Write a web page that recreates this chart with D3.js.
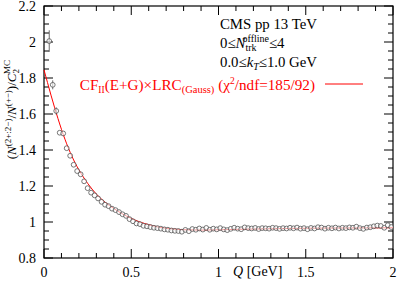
<!DOCTYPE html>
<html>
<head>
<meta charset="utf-8">
<script src="https://cdn.jsdelivr.net/npm/d3@7"></script>
<style>
  body { margin: 0; background: #fff; }
  svg text { font-family: "Liberation Serif", "DejaVu Serif", serif; }
</style>
</head>
<body>
<div id="chart"></div>
<script>
// measured points (Q bin centres, ratio, stat. error)
const qVals = [0.03, 0.05, 0.07, 0.09, 0.11, 0.13, 0.15, 0.17, 0.19, 0.21,
  0.23, 0.25, 0.27, 0.29, 0.31, 0.33, 0.35, 0.37, 0.39, 0.41,
  0.43, 0.45, 0.47, 0.49, 0.51, 0.53, 0.55, 0.57, 0.59, 0.61,
  0.63, 0.65, 0.67, 0.69, 0.71, 0.73, 0.75, 0.77, 0.79, 0.81,
  0.83, 0.85, 0.87, 0.89, 0.91, 0.93, 0.95, 0.97, 0.99, 1.01,
  1.03, 1.05, 1.07, 1.09, 1.11, 1.13, 1.15, 1.17, 1.19, 1.21,
  1.23, 1.25, 1.27, 1.29, 1.31, 1.33, 1.35, 1.37, 1.39, 1.41,
  1.43, 1.45, 1.47, 1.49, 1.51, 1.53, 1.55, 1.57, 1.59, 1.61,
  1.63, 1.65, 1.67, 1.69, 1.71, 1.73, 1.75, 1.77, 1.79, 1.81,
  1.83, 1.85, 1.87, 1.89, 1.91, 1.93, 1.95, 1.97, 1.99];
const ratioVals = [2.005, 1.762, 1.617, 1.496, 1.492, 1.410, 1.368, 1.318, 1.283, 1.265,
  1.226, 1.188, 1.163, 1.148, 1.131, 1.112, 1.096, 1.088, 1.074, 1.066,
  1.055, 1.043, 1.034, 1.016, 1.004, 0.992, 0.988, 0.979, 0.976, 0.972,
  0.968, 0.966, 0.963, 0.959, 0.957, 0.953, 0.951, 0.950, 0.946, 0.956,
  0.949, 0.961, 0.957, 0.964, 0.958, 0.967, 0.957, 0.963, 0.959, 0.966,
  0.959, 0.955, 0.962, 0.968, 0.963, 0.960, 0.970, 0.966, 0.964, 0.967,
  0.961, 0.966, 0.965, 0.963, 0.968, 0.966, 0.962, 0.966, 0.964, 0.968,
  0.965, 0.969, 0.963, 0.966, 0.960, 0.967, 0.964, 0.971, 0.969, 0.963,
  0.968, 0.965, 0.969, 0.964, 0.968, 0.966, 0.970, 0.968, 0.974, 0.966,
  0.962, 0.969, 0.971, 0.976, 0.980, 0.978, 0.968, 0.982, 0.972];
const errVals = [0.060, 0.025, 0.020, 0.012, 0.012, 0.009, 0.008, 0.007, 0.007, 0.006,
  0.006, 0.005, 0.005, 0.005, 0.005, 0.004, 0.004, 0.004, 0.004, 0.004,
  0.004, 0.004, 0.004, 0.004, 0.004, 0.004, 0.004, 0.004, 0.004, 0.004,
  0.004, 0.004, 0.004, 0.004, 0.004, 0.004, 0.004, 0.004, 0.004, 0.004,
  0.004, 0.004, 0.004, 0.004, 0.004, 0.004, 0.004, 0.004, 0.004, 0.004,
  0.004, 0.004, 0.004, 0.004, 0.004, 0.004, 0.004, 0.004, 0.004, 0.004,
  0.004, 0.004, 0.004, 0.004, 0.004, 0.004, 0.004, 0.004, 0.004, 0.004,
  0.004, 0.004, 0.004, 0.004, 0.004, 0.004, 0.004, 0.004, 0.004, 0.004,
  0.005, 0.005, 0.005, 0.005, 0.005, 0.005, 0.005, 0.005, 0.005, 0.005,
  0.005, 0.005, 0.005, 0.006, 0.006, 0.006, 0.006, 0.006, 0.006];

// fit curve
const fitQ = [0, 0.02, 0.04, 0.06, 0.08, 0.10, 0.12, 0.14, 0.16, 0.18, 0.20,
  0.25, 0.30, 0.35, 0.40, 0.45, 0.50, 0.55, 0.60, 0.65, 0.70,
  0.80, 0.90, 1.00, 1.20, 1.40, 1.60, 1.80, 2.00];
const fitVals = [1.845, 1.775, 1.705, 1.638, 1.575, 1.515, 1.460, 1.410, 1.365, 1.325, 1.290,
  1.215, 1.155, 1.110, 1.075, 1.045, 1.020, 1.000, 0.985, 0.973, 0.965,
  0.957, 0.955, 0.957, 0.961, 0.964, 0.966, 0.967, 0.968];

const xTickLabels = [0, 0.5, 1, 1.5, 2];
const yTickLabels = [0.8, 1, 1.2, 1.4, 1.6, 1.8, 2, 2.2];

const width = 399, height = 285;
const margin = {left: 44, right: 6, top: 6, bottom: 27};

const svg = d3.select('#chart').append('svg')
  .attr('width', width)
  .attr('height', height);

const x = d3.scaleLinear().domain([0, 2]).range([margin.left, width - margin.right]);
const y = d3.scaleLinear().domain([0.8, 2.2]).range([height - margin.bottom, margin.top]);

const x0 = x.range()[0], x1 = x.range()[1];
const y0 = y.range()[0], y1 = y.range()[1];

// ticks, ROOT style (inside, on all four sides)
const xMinor = d3.range(0, 2.0001, 0.1);
const yMinor = d3.range(0.8, 2.2001, 0.05);
const tickG = svg.append('g').attr('stroke', '#000').attr('stroke-width', 1);
xMinor.forEach((v, i) => {
  const len = i % 5 === 0 ? 9 : 5;
  tickG.append('line').attr('x1', x(v)).attr('x2', x(v)).attr('y1', y0).attr('y2', y0 - len);
  tickG.append('line').attr('x1', x(v)).attr('x2', x(v)).attr('y1', y1).attr('y2', y1 + len);
});
yMinor.forEach((v, i) => {
  const len = i % 4 === 0 ? 9 : 5;
  tickG.append('line').attr('y1', y(v)).attr('y2', y(v)).attr('x1', x0).attr('x2', x0 + len);
  tickG.append('line').attr('y1', y(v)).attr('y2', y(v)).attr('x1', x1).attr('x2', x1 - len);
});

// frame
svg.append('rect')
  .attr('x', x0).attr('y', y1)
  .attr('width', x1 - x0).attr('height', y0 - y1)
  .attr('fill', 'none').attr('stroke', '#000').attr('stroke-width', 1.2);

// tick labels
svg.append('g').selectAll('text')
  .data(xTickLabels).enter().append('text')
  .attr('x', d => x(d)).attr('y', y0 + 19)
  .attr('text-anchor', 'middle')
  .attr('font-size', 14)
  .text(d => d);
svg.append('g').selectAll('text')
  .data(yTickLabels).enter().append('text')
  .attr('x', x0 - 8).attr('y', d => y(d) + 5)
  .attr('text-anchor', 'end')
  .attr('font-size', 14)
  .text(d => d);

// axis titles
const xt = svg.append('text').attr('x', 233).attr('y', 276).attr('font-size', 14);
xt.append('tspan').attr('font-style', 'italic').text('Q');
xt.append('tspan').text(' [GeV]');

const yt = svg.append('text')
  .attr('transform', 'translate(16,60) rotate(-90)')
  .attr('text-anchor', 'end')
  .attr('font-size', 13);
yt.append('tspan').text('(');
yt.append('tspan').attr('font-style', 'italic').text('N');
yt.append('tspan').attr('font-size', 9).attr('dy', -5).text('(2+:2\u2212)');
yt.append('tspan').attr('dy', 5).text('/');
yt.append('tspan').attr('font-style', 'italic').text('N');
yt.append('tspan').attr('font-size', 9).attr('dy', -5).text('(+\u2212)');
yt.append('tspan').attr('dy', 5).text(')/');
yt.append('tspan').attr('font-style', 'italic').text('C');
yt.append('tspan').attr('font-size', 9).attr('dy', 3).text('2');
yt.append('tspan').attr('font-size', 9).attr('dx', -5).attr('dy', -9).text('MC');

// fit line
const fitData = fitQ.map((q, i) => ({q: q, v: fitVals[i]}));
const line = d3.line().x(d => x(d.q)).y(d => y(d.v)).curve(d3.curveMonotoneX);
svg.append('path')
  .datum(fitData)
  .attr('d', line)
  .attr('fill', 'none')
  .attr('stroke', '#ff0000')
  .attr('stroke-width', 1);

// data points with error bars
const pts = qVals.map((q, i) => ({q: q, v: ratioVals[i], e: errVals[i]}));
const r = 2.4;
const pg = svg.append('g');
pg.selectAll('line')
  .data(pts.filter(d => y(d.v - d.e) - y(d.v + d.e) > 2 * r))
  .enter().append('line')
  .attr('x1', d => x(d.q)).attr('x2', d => x(d.q))
  .attr('y1', d => y(d.v - d.e)).attr('y2', d => y(d.v + d.e))
  .attr('stroke', '#444').attr('stroke-width', 0.8);
pg.selectAll('circle')
  .data(pts).enter().append('circle')
  .attr('cx', d => x(d.q)).attr('cy', d => y(d.v))
  .attr('r', r)
  .attr('fill', '#fff')
  .attr('fill-opacity', 0.6)
  .attr('stroke', '#555')
  .attr('stroke-width', 0.8);

// legend text
const tx = 220;
svg.append('text').attr('x', tx).attr('y', 29).attr('font-size', 14.8).text('CMS pp 13 TeV');
const t2 = svg.append('text').attr('x', tx).attr('y', 48).attr('font-size', 14.8);
t2.append('tspan').text('0\u2264');
t2.append('tspan').attr('font-style', 'italic').text('N');
t2.append('tspan').attr('font-size', 10).attr('dy', 3).text('trk');
t2.append('tspan').attr('font-size', 10).attr('dx', -14).attr('dy', -9).text('offline');
t2.append('tspan').attr('dy', 6).text('\u22644');
const t3 = svg.append('text').attr('x', tx).attr('y', 67).attr('font-size', 14.8);
t3.append('tspan').text('0.0\u2264');
t3.append('tspan').attr('font-style', 'italic').text('k');
t3.append('tspan').attr('font-style', 'italic').attr('font-size', 10).attr('dy', 3).text('T');
t3.append('tspan').attr('dy', -3).text('\u22641.0 GeV');

const t4 = svg.append('text').attr('x', 315).attr('y', 90)
  .attr('text-anchor', 'end').attr('font-size', 15.2).attr('fill', '#ff0000');
t4.append('tspan').text('CF');
t4.append('tspan').attr('font-size', 9.5).attr('dy', 3).text('II');
t4.append('tspan').attr('dy', -3).text('(E+G)\u00d7LRC');
t4.append('tspan').attr('font-size', 10.5).attr('dy', 3).text('(Gauss)');
t4.append('tspan').attr('dy', -3).text(' (\u03c7');
t4.append('tspan').attr('font-size', 9.5).attr('dy', -6).text('2');
t4.append('tspan').attr('dy', 6).text('/ndf=185/92)');
svg.append('line')
  .attr('x1', 325).attr('x2', 363).attr('y1', 84).attr('y2', 84)
  .attr('stroke', '#ff0000').attr('stroke-width', 1);
</script>
</body>
</html>
